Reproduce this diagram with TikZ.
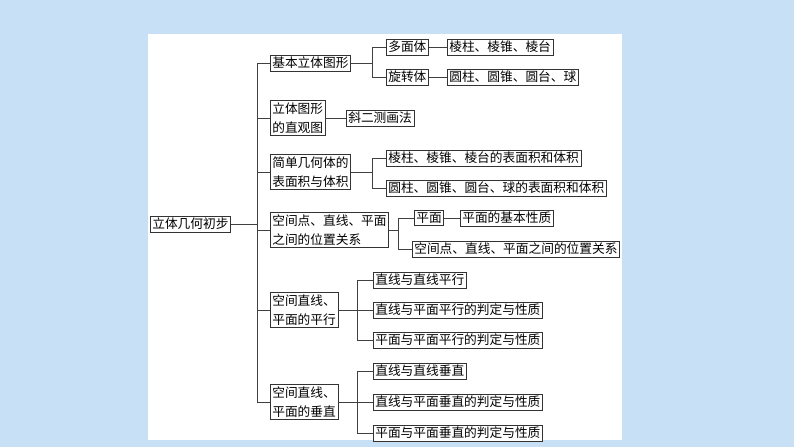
\documentclass[tikz,border=0pt]{standalone}
\usepackage{fontspec}
\setmainfont{Noto Sans CJK SC}
\usetikzlibrary{positioning,calc}
\definecolor{skyback}{RGB}{200,224,246}
\tikzset{
  box/.style={draw=black!80,line width=0.6pt,fill=white,inner sep=2pt,font=\fontsize{12.7}{19}\selectfont,anchor=west,align=left},
  link/.style={draw=black!75,line width=0.6pt}
}
\begin{document}
\begin{tikzpicture}[x=1pt,y=-1pt]
  % background
  \fill[skyback] (0,0) rectangle (794,447);
  \fill[white] (148,34) rectangle (622,440);
  \useasboundingbox (0,0) rectangle (794,447);
  % root
  \node[box] (root) at (150,224) {立体几何初步};
  % level one
  \node[box] (jb) at (270,63) {基本立体图形};
  \node[box] (zg) at (270,118) {立体图形\\的直观图};
  \node[box] (bm) at (270,172) {简单几何体的\\表面积与体积};
  \node[box] (wz) at (270,230) {空间点、直线、平面\\之间的位置关系};
  \node[box] (px) at (270,310) {空间直线、\\平面的平行};
  \node[box] (cz) at (270,402) {空间直线、\\平面的垂直};
  % level two
  \node[box] (dm) at (386,47) {多面体};
  \node[box] (xz) at (386,77) {旋转体};
  \node[box] (lz) at (447,47) {棱柱、棱锥、棱台};
  \node[box] (yz) at (447,77) {圆柱、圆锥、圆台、球};
  \node[box] (xe) at (346,118) {斜二测画法};
  \node[box] (bm1) at (386,158) {棱柱、棱锥、棱台的表面积和体积};
  \node[box] (bm2) at (386,188) {圆柱、圆锥、圆台、球的表面积和体积};
  \node[box] (pm) at (414,218) {平面};
  \node[box] (xzh) at (460,218) {平面的基本性质};
  \node[box] (wz2) at (412,249) {空间点、直线、平面之间的位置关系};
  \node[box] (px1) at (373,280) {直线与直线平行};
  \node[box] (px2) at (373,310) {直线与平面平行的判定与性质};
  \node[box] (px3) at (373,340) {平面与平面平行的判定与性质};
  \node[box] (cz1) at (373,371) {直线与直线垂直};
  \node[box] (cz2) at (373,402) {直线与平面垂直的判定与性质};
  \node[box] (cz3) at (373,433) {平面与平面垂直的判定与性质};
  % trunk
  \coordinate (t0) at (257,224);
  \draw[link] (root.east) -- (t0);
  \foreach \n in {jb,zg,bm,wz,px,cz}
    \draw[link] (t0) |- (\n.west);
  % branches
  \foreach \p/\x/\cs in {jb/372/{dm,xz}, bm/372/{bm1,bm2}, wz/398/{pm,wz2}, px/357/{px1,px2,px3}, cz/357/{cz1,cz2,cz3}}{
    \coordinate (b) at (\x,0);
    \draw[link] (\p.east) -- (b |- \p.east);
    \foreach \c in \cs
      \draw[link] (b |- \p.east) |- (\c.west);
  }
  \draw[link] (zg.east) -- (xe.west);
  \draw[link] (dm.east) -- (lz.west);
  \draw[link] (xz.east) -- (yz.west);
  \draw[link] (pm.east) -- (xzh.west);
\end{tikzpicture}
\end{document}
